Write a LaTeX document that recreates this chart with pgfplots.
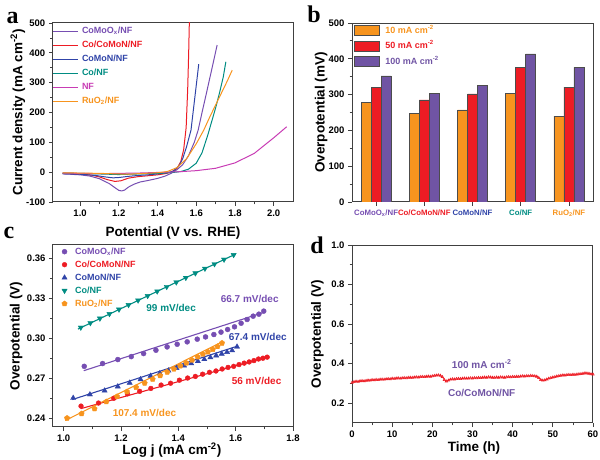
\documentclass[border=0pt]{standalone}
\usepackage{pgfplots}
\pgfplotsset{compat=1.18}
\usepackage{fontspec}
\setmainfont{Liberation Sans}
\newfontfamily\letterfont{Liberation Serif}
\usetikzlibrary{plotmarks}

\definecolor{cpurple}{RGB}{118,78,178}
\definecolor{cred}{RGB}{237,28,36}
\definecolor{cblue}{RGB}{48,68,168}
\definecolor{cteal}{RGB}{0,140,130}
\definecolor{cmag}{RGB}{200,60,180}
\definecolor{corange}{RGB}{247,148,30}
\definecolor{bpurple}{RGB}{112,84,164}

\pgfplotsset{
panel/.style={
    scale only axis,
    anchor=south west,
    axis line style={black!75, line width=1pt},
    tick style={black!75, line width=0.8pt},
    tick align=outside,
    xtick pos=left, ytick pos=left,
    major tick length=4pt, minor tick length=2.5pt,
    tick label style={font=\bfseries\fontsize{9.5}{10}\selectfont},
    label style={font=\bfseries\fontsize{13.5}{15}\selectfont},
    /pgf/number format/assume math mode=true,
    legend cell align=left,
    legend style={draw=none, fill=none, inner sep=0pt, outer sep=0pt,
        font=\bfseries\fontsize{9}{10}\selectfont,
        nodes={inner xsep=3pt, inner ysep=0pt, text height=7pt, text depth=2pt}},
},
}

\begin{document}
\begin{tikzpicture}
\useasboundingbox (0,0) rectangle (600pt,460pt);

% ---------- a : polarisation curves
\begin{axis}[panel,
at={(53pt,258pt)}, width=240pt, height=179pt,
xmin=0.86, xmax=2.1, ymin=-100, ymax=500,
xtick={1,1.2,1.4,1.6,1.8,2},
xticklabel style={/pgf/number format/.cd, fixed, fixed zerofill, precision=1},
ytick={-100,0,100,200,300,400,500},
minor x tick num=1, minor y tick num=1,
xlabel={Potential (V vs. RHE)},
ylabel={Current density (mA cm\textsuperscript{-2})},
xlabel style={at={(axis description cs:0.5,-0.173)}, anchor=center},
ylabel style={at={(axis description cs:-0.146,0.5)}, anchor=center},
legend style={at={(axis description cs:0,0.98)}, anchor=north west, row sep=5pt},
legend image code/.code={\draw[#1] (0pt,0pt) -- (25pt,0pt);},
line width=1pt,
]
\addplot[cpurple, line width=1pt] coordinates {
(0.91,-6) (0.95,-7) (1.0,-9) (1.05,-13) (1.1,-22) (1.15,-38) (1.18,-52) (1.2,-61)
(1.215,-63) (1.23,-60) (1.25,-50) (1.28,-40) (1.31,-33) (1.35,-28) (1.40,-21)
(1.44,-13) (1.47,-4) (1.5,8) (1.53,25) (1.56,55) (1.59,100) (1.61,141) (1.63,200)
(1.65,257) (1.68,344) (1.708,426)};
\addlegendentry{\textcolor{cpurple}{CoMoO\textsubscript{x}/NF}}
\addplot[cred, line width=1pt] coordinates {
(0.91,-3) (1.0,-6) (1.06,-10) (1.1,-16) (1.14,-25) (1.18,-31) (1.21,-29) (1.25,-20)
(1.3,-15) (1.35,-12) (1.4,-9) (1.44,-5) (1.47,0) (1.5,12) (1.52,35) (1.535,75)
(1.548,150) (1.556,280) (1.561,400) (1.565,520)};
\addlegendentry{\textcolor{cred}{Co/CoMoN/NF}}
\addplot[cblue, line width=1pt] coordinates {
(0.91,-5) (1.0,-7) (1.08,-11) (1.13,-16) (1.17,-19) (1.2,-18) (1.25,-14) (1.3,-11)
(1.35,-9) (1.4,-6) (1.45,-2) (1.48,3) (1.51,20) (1.53,45) (1.55,85) (1.573,141)
(1.59,235) (1.60,290) (1.613,362)};
\addlegendentry{\textcolor{cblue}{CoMoN/NF}}
\addplot[cteal, line width=1pt] coordinates {
(0.91,-3) (1.0,-4) (1.1,-6) (1.2,-8) (1.3,-6) (1.4,-4) (1.48,-1) (1.52,2) (1.56,10)
(1.6,30) (1.63,65) (1.66,125) (1.68,170) (1.7,215) (1.72,265) (1.74,320) (1.753,370)};
\addlegendentry{\textcolor{cteal}{Co/NF}}
\addplot[cmag, line width=1pt] coordinates {
(0.91,-3) (1.0,-4) (1.1,-5) (1.2,-4) (1.3,-3) (1.4,-1) (1.5,1) (1.6,5) (1.7,13)
(1.8,31) (1.9,63) (2.0,115) (2.067,152)};
\addlegendentry{\textcolor{cmag}{NF}}
\addplot[corange, line width=1pt] coordinates {
(0.91,-2) (1.0,-3) (1.1,-4) (1.2,-6) (1.25,-7) (1.3,-5) (1.4,-2) (1.45,2) (1.5,15)
(1.55,45) (1.6,95) (1.639,141) (1.67,185) (1.7,225) (1.73,265) (1.76,305) (1.786,342)};
\addlegendentry{\textcolor{corange}{RuO\textsubscript{2}/NF}}
\end{axis}

% ---------- b : overpotentials
\begin{axis}[panel,
at={(352pt,258pt)}, width=241pt, height=179pt,
ybar, bar width=0.207,
xmin=-0.5, xmax=4.5, ymin=0, ymax=500,
xtick={0,1,2,3,4},
xticklabels={\textcolor{cpurple}{CoMoO\textsubscript{x}/NF},\textcolor{cred}{Co/CoMoN/NF},
  \textcolor{cblue}{CoMoN/NF},\textcolor{cteal}{Co/NF},\textcolor{corange}{RuO\textsubscript{2}/NF}},
xticklabel style={font=\bfseries\fontsize{7.8}{8}\selectfont},
ytick={0,100,200,300,400,500},
minor y tick num=1,
ylabel={Overpotential (mV)},
ylabel style={at={(axis description cs:-0.128,0.5)}, anchor=center},
legend style={at={(axis description cs:0.008,0.987)}, anchor=north west, row sep=5pt,
  /tikz/every odd column/.append style={column sep=3pt}},
legend image code/.code={\draw[#1] (0pt,-5pt) rectangle (25pt,5pt);},
]
\addplot[fill=corange, draw=black!70, line width=0.5pt, bar shift=-0.207] coordinates {
(0,278) (1,248) (2,257) (3,304) (4,240)};
\addlegendentry{\textcolor{corange}{10 mA cm\textsuperscript{-2}}}
\addplot[fill=cred, draw=black!70, line width=0.5pt, bar shift=0] coordinates {
(0,321) (1,285) (2,302) (3,376) (4,321)};
\addlegendentry{\textcolor{cred}{50 mA cm\textsuperscript{-2}}}
\addplot[fill=bpurple, draw=black!70, line width=0.5pt, bar shift=0.207] coordinates {
(0,352) (1,303) (2,326) (3,414) (4,376)};
\addlegendentry{\textcolor{bpurple}{100 mA cm\textsuperscript{-2}}}
\end{axis}

% ---------- c : Tafel plots
\begin{axis}[panel,
at={(53pt,33pt)}, width=240pt, height=182pt,
xmin=0.963, xmax=1.8, ymin=0.2332, ymax=0.370,
xtick={1,1.2,1.4,1.6,1.8},
xticklabel style={/pgf/number format/.cd, fixed, fixed zerofill, precision=1},
ytick={0.24,0.27,0.30,0.33,0.36},
yticklabel style={/pgf/number format/.cd, fixed, fixed zerofill, precision=2},
minor x tick num=1, minor y tick num=1,
xlabel={Log j (mA cm\textsuperscript{-2})},
ylabel={Overpotential (V)},
xlabel style={at={(axis description cs:0.495,-0.126)}, anchor=center},
ylabel style={at={(axis description cs:-0.154,0.5)}, anchor=center},
legend style={at={(axis description cs:0.037,0.988)}, anchor=north west, row sep=4pt,
  /tikz/every odd column/.append style={column sep=5pt}},
legend image code/.code={\draw[#1] plot coordinates {(2.5pt,0pt)};},
]
% fit lines
\addplot[cpurple, line width=1.1pt, forget plot] coordinates {(1.07,0.2755) (1.70,0.3195)};
\addplot[cred, line width=1.1pt, forget plot] coordinates {(1.06,0.2470) (1.71,0.2858)};
\addplot[cblue, line width=1.1pt, forget plot] coordinates {(1.03,0.2538) (1.605,0.2939)};
\addplot[cteal, line width=1.1pt, forget plot] coordinates {(1.05,0.3068) (1.60,0.3632)};
\addplot[corange, line width=1.1pt, forget plot] coordinates {(1.006,0.2381) (1.553,0.2972)};
% measured points
\addplot[only marks, mark=*, mark size=2.5pt, color=cpurple] coordinates {
(1.072,0.2788) (1.136,0.2809) (1.189,0.2839) (1.236,0.2861) (1.279,0.2884)
(1.322,0.2909) (1.361,0.2934) (1.396,0.2954) (1.431,0.2972) (1.466,0.2992)
(1.495,0.3009) (1.524,0.3027) (1.549,0.3045) (1.572,0.3065) (1.596,0.3085)
(1.619,0.3112) (1.640,0.3140) (1.661,0.3165) (1.681,0.3180) (1.698,0.3203)};
\addlegendentry{\textcolor{cpurple}{CoMoO\textsubscript{x}/NF}}
\addplot[only marks, mark=*, mark size=2.4pt, color=cred] coordinates {
(1.0607,0.2489) (1.1216,0.2512) (1.1749,0.2548) (1.2224,0.2581) (1.2653,0.2600)
(1.3043,0.2622) (1.3400,0.2647) (1.3731,0.2661) (1.4038,0.2684) (1.4325,0.2700)
(1.4594,0.2712) (1.4847,0.2729) (1.5087,0.2743) (1.5314,0.2753) (1.5529,0.2768)
(1.5735,0.2780) (1.5931,0.2788) (1.6118,0.2801) (1.6298,0.2812) (1.6471,0.2821)
(1.6637,0.2831) (1.6797,0.2843) (1.6951,0.2849) (1.7100,0.2857)};
\addlegendentry{\textcolor{cred}{Co/CoMoN/NF}}
\addplot[only marks, mark=triangle*, mark size=3pt, color=cblue] coordinates {
(1.0334,0.2550) (1.0917,0.2576) (1.1430,0.2605) (1.1889,0.2636) (1.2304,0.2664)
(1.2683,0.2690) (1.3032,0.2716) (1.3355,0.2735) (1.3655,0.2756) (1.3936,0.2775)
(1.4200,0.2793) (1.4449,0.2810) (1.4683,0.2826) (1.4907,0.2841) (1.5119,0.2855)
(1.5321,0.2869) (1.5514,0.2882) (1.5699,0.2895) (1.5877,0.2907) (1.6048,0.2935)};
\addlegendentry{\textcolor{cblue}{CoMoN/NF}}
\addplot[only marks, mark=triangle*, mark options={rotate=180}, mark size=3pt, color=cteal] coordinates {
(1.0600,0.3080) (1.0933,0.3114) (1.1266,0.3148) (1.1599,0.3182) (1.1932,0.3216)
(1.2265,0.3250) (1.2598,0.3284) (1.2931,0.3318) (1.3264,0.3352) (1.3597,0.3386)
(1.3930,0.3420) (1.4263,0.3454) (1.4596,0.3488) (1.4929,0.3523) (1.5262,0.3557)
(1.5595,0.3591) (1.5930,0.3626)};
\addlegendentry{\textcolor{cteal}{Co/NF}}
\addplot[only marks, mark=pentagon*, mark size=2.8pt, color=corange] coordinates {
(1.0120,0.2399) (1.0626,0.2432) (1.1079,0.2469) (1.1489,0.2522) (1.1864,0.2561)
(1.2209,0.2597) (1.2529,0.2630) (1.2826,0.2662) (1.3105,0.2691) (1.3367,0.2718)
(1.3614,0.2744) (1.3847,0.2768) (1.4069,0.2791) (1.4280,0.2813) (1.4481,0.2834)
(1.4673,0.2859) (1.4857,0.2879) (1.5034,0.2897) (1.5204,0.2915) (1.5367,0.2937)
(1.5524,0.2963)};
\addlegendentry{\textcolor{corange}{RuO\textsubscript{2}/NF}}
\node[font=\bfseries\fontsize{10}{11}\selectfont, text=cteal] at (axis cs:1.375,0.323) {99 mV/dec};
\node[font=\bfseries\fontsize{10}{11}\selectfont, text=cpurple] at (axis cs:1.649,0.3293) {66.7 mV/dec};
\node[font=\bfseries\fontsize{10}{11}\selectfont, text=cblue] at (axis cs:1.677,0.3005) {67.4 mV/dec};
\node[font=\bfseries\fontsize{10}{11}\selectfont, text=cred] at (axis cs:1.673,0.2675) {56 mV/dec};
\node[font=\bfseries\fontsize{10}{11}\selectfont, text=corange] at (axis cs:1.282,0.2439) {107.4 mV/dec};
\end{axis}

% ---------- d : stability
\begin{axis}[panel,
at={(352pt,37pt)}, width=241pt, height=178pt,
xmin=0, xmax=60, ymin=0.1, ymax=1.0,
xtick={0,10,20,30,40,50,60},
ytick={0.2,0.4,0.6,0.8,1.0},
yticklabel style={/pgf/number format/.cd, fixed, fixed zerofill, precision=1},
minor x tick num=1, minor y tick num=1,
xlabel={Time (h)},
ylabel={Overpotential (V)},
xlabel style={at={(axis description cs:0.506,-0.14)}, anchor=center},
ylabel style={at={(axis description cs:-0.144,0.5)}, anchor=center},
]
\addplot[cred, line width=0.6pt, mark=triangle, mark size=1.4pt] coordinates {
(0,0.304) (0.5,0.308) (1,0.310) (1.5,0.309) (2,0.312) (2.5,0.313) (3,0.312) (3.5,0.314)
(4,0.316) (4.5,0.315) (5,0.318) (5.5,0.317) (6,0.319) (6.5,0.318) (7,0.320) (7.5,0.321)
(8,0.320) (8.5,0.322) (9,0.323) (9.5,0.322) (10,0.325) (10.5,0.324) (11,0.326) (11.5,0.327)
(12,0.325) (12.5,0.327) (13,0.328) (13.5,0.327) (14,0.329) (14.5,0.330) (15,0.329) (15.5,0.331)
(16,0.332) (16.5,0.331) (17,0.333) (17.5,0.334) (18,0.333) (18.5,0.335) (19,0.336) (19.5,0.335)
(20,0.337) (20.5,0.339) (21,0.341) (21.5,0.342) (22,0.340) (22.5,0.333) (23,0.318) (23.5,0.311)
(24,0.315) (24.5,0.320) (25,0.322) (25.5,0.321) (26,0.323) (26.5,0.324) (27,0.323) (27.5,0.325)
(28,0.326) (28.5,0.325) (29,0.326) (29.5,0.327) (30,0.326) (30.5,0.328) (31,0.327) (31.5,0.329)
(32,0.328) (32.5,0.330) (33,0.331) (33.5,0.330) (34,0.332) (34.5,0.331) (35,0.330) (35.5,0.329)
(36,0.331) (36.5,0.330) (37,0.332) (37.5,0.331) (38,0.330) (38.5,0.332) (39,0.333) (39.5,0.332)
(40,0.334) (40.5,0.333) (41,0.335) (41.5,0.334) (42,0.336) (42.5,0.337) (43,0.336) (43.5,0.338)
(44,0.337) (44.5,0.339) (45,0.338) (45.5,0.337) (46,0.335) (46.5,0.328) (47,0.318) (47.5,0.315)
(48,0.317) (48.5,0.321) (49,0.325) (49.5,0.328) (50,0.331) (50.5,0.333) (51,0.336) (51.5,0.338)
(52,0.340) (52.5,0.342) (53,0.341) (53.5,0.343) (54,0.344) (54.5,0.343) (55,0.345) (55.5,0.344)
(56,0.346) (56.5,0.347) (57,0.348) (57.5,0.350) (58,0.352) (58.5,0.351) (59,0.350) (59.5,0.347)
(60,0.346)};
\node[font=\bfseries\fontsize{10}{11}\selectfont, text=bpurple] at (axis cs:32.3,0.3965) {100 mA cm\textsuperscript{-2}};
\node[font=\bfseries\fontsize{10}{11}\selectfont, text=bpurple] at (axis cs:32.3,0.252) {Co/CoMoN/NF};
\end{axis}

% panel letters
\node[font=\letterfont\bfseries\fontsize{24}{24}\selectfont] at (12.5pt,442.5pt) {a};
\node[font=\letterfont\bfseries\fontsize{24}{24}\selectfont] at (314pt,446pt) {b};
\node[font=\letterfont\bfseries\fontsize{24}{24}\selectfont] at (9pt,227pt) {c};
\node[font=\letterfont\bfseries\fontsize{24}{24}\selectfont] at (317pt,215pt) {d};
\end{tikzpicture}
\end{document}
